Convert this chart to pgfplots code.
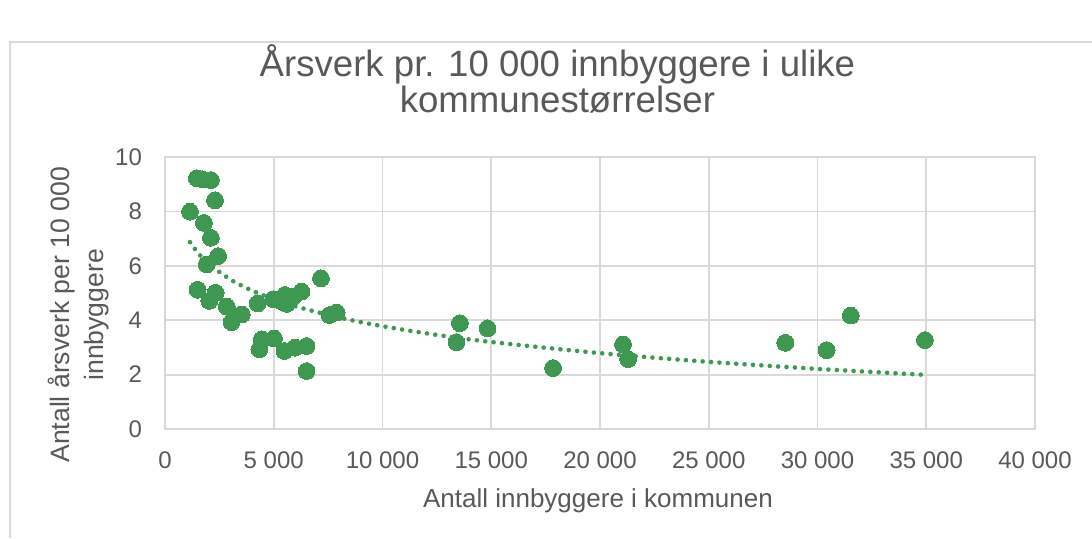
\documentclass[border=0pt]{standalone}
\usepackage{fontspec}
\setmainfont{Liberation Sans}
\usepackage{pgfplots}
\pgfplotsset{compat=1.18}
\definecolor{ptgreen}{HTML}{3E9852}
\definecolor{txtgray}{HTML}{595959}
\definecolor{gridgray}{HTML}{D9D9D9}
\begin{document}
\begin{tikzpicture}
\useasboundingbox (0,0) rectangle (546pt,-269pt);
\fill[white] (0,0) rectangle (546pt,-269pt);
\draw[gridgray, line width=0.8pt] (5pt,-269pt) -- (5pt,-21pt) -- (546pt,-21pt);
\begin{axis}[
  at={(82.5pt,-214.5pt)}, anchor=south west,
  scale only axis, width=435pt, height=136pt,
  xmin=0, xmax=40000, ymin=0, ymax=10,
  scaled x ticks=false, scaled y ticks=false,
  xtick={0,5000,10000,15000,20000,25000,30000,35000,40000},
  xticklabels={0,5 000,10 000,15 000,20 000,25 000,30 000,35 000,40 000},
  ytick={0,2,4,6,8,10},
  yticklabels={0,2,4,6,8,10},
  /pgf/number format/assume math mode=true,
  major tick length=0pt,
  grid=major,
  major grid style={gridgray, line width=0.9pt},
  axis line style={gridgray, line width=0.9pt},
  tick style={draw=none},
  ticklabel style={font=\fontsize{12}{13}\selectfont, text=txtgray},
  xticklabel style={yshift=-8pt},
  yticklabel style={xshift=-8pt},
  title={Årsverk pr. 10 000 innbyggere i ulike\\kommunestørrelser},
  title style={at={(axis description cs:0.4511,1.242)}, anchor=center, align=center,
    font=\fontsize{18.3}{17}\selectfont, text=txtgray},
  xlabel={Antall innbyggere i kommunen},
  xlabel style={at={(axis description cs:0.4977,-0.265)}, anchor=center,
    font=\fontsize{13}{16}\selectfont, text=txtgray},
  ylabel={Antall årsverk per 10 000\\innbyggere},
  ylabel style={at={(axis description cs:-0.0994,0.42)}, anchor=center, align=center, rotate=0,
    font=\fontsize{13.3}{17}\selectfont, text=txtgray},
  clip=false,
]
\addplot[only marks, color=ptgreen, mark=*, mark size=4.2pt, mark options={fill=ptgreen, draw=ptgreen, line width=0pt}] coordinates {
(1150,7.99) (1460,9.22) (1730,9.18) (2110,9.15) (2300,8.41) (1790,7.58)
(2110,7.03) (2440,6.36) (1920,6.05) (1500,5.12) (2330,5.01) (2040,4.71)
(2840,4.50) (3530,4.21) (3060,3.93) (4260,4.62) (4980,4.77) (5360,4.69)
(5520,4.93) (5590,4.60) (5900,4.87) (6280,5.05) (7170,5.54) (7560,4.19)
(7890,4.28) (4450,3.30) (5010,3.33) (4340,2.93) (5490,2.87) (5980,2.99)
(6510,3.05) (6510,2.13) (13560,3.89) (13400,3.19) (14830,3.70) (17840,2.24)
(21060,3.11) (21290,2.57) (28520,3.17) (30420,2.90) (31530,4.17) (34940,3.27)
};
\addplot[ptgreen, line width=2.3pt, line cap=round, dash pattern=on 0pt off 4.2pt, smooth] coordinates {
(1150,6.87) (1500,6.49) (2000,6.08) (3000,5.50) (4000,5.09) (5000,4.77)
(6000,4.51) (8000,4.10) (10000,3.78) (12500,3.46) (15000,3.20) (20000,2.79)
(25000,2.47) (30000,2.21) (35000,1.99)
};
\end{axis}
\end{tikzpicture}
\end{document}
